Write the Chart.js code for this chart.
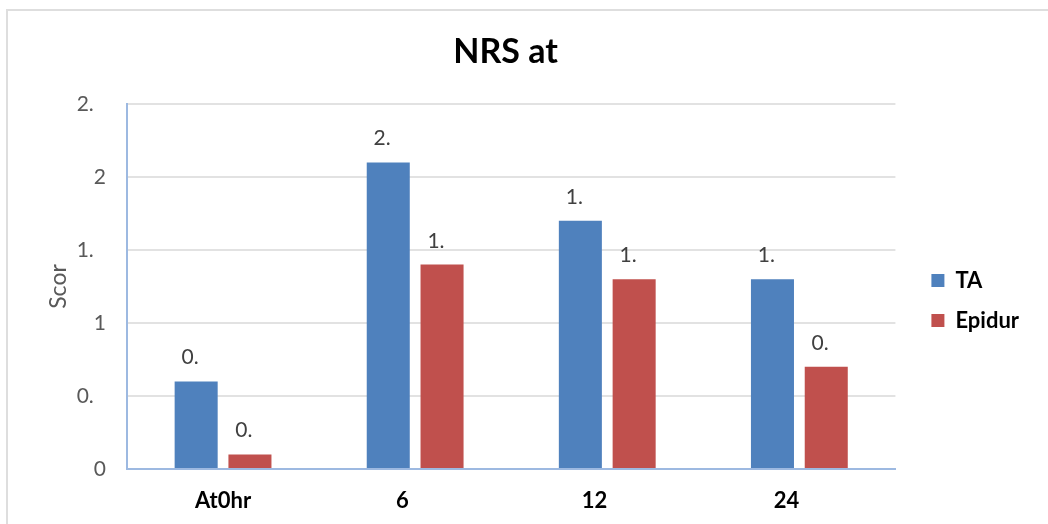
<!DOCTYPE html>
<html>
<head>
<meta charset="utf-8">
<script src="https://cdn.jsdelivr.net/npm/chart.js@4/dist/chart.umd.min.js"></script>
<style>
  html, body { margin: 0; padding: 0; background: #fff; overflow: hidden; }
  #wrap { position: relative; width: 1048px; height: 524px; }
  #frame { position: absolute; left: 6px; top: 9px; width: 1100px; height: 600px;
           border: 2px solid #dedede; box-sizing: border-box; }
  canvas { position: absolute; left: 0; top: 0; }
</style>
</head>
<body>
<div id="wrap">
  <div id="frame"></div>
  <canvas id="chart" width="1048" height="524"></canvas>
</div>
<script>
// Pain scores (NRS) by time point
const categories = ['At0hr', '6', '12', '24'];
const seriesNames = ['TA', 'Epidur'];
const taScores = [0.6, 2.1, 1.7, 1.3];
const epiduralScores = [0.1, 1.4, 1.3, 0.7];
const yTickLabels = ['0', '0.', '1', '1.', '2', '2.'];

const FIG = '\u2007'; // figure space, keeps clipped labels in their column

// Short value labels above each bar
const valueLabels = {
  id: 'valueLabels',
  afterDatasetsDraw(chart) {
    const ctx = chart.ctx;
    ctx.save();
    ctx.font = '21px Lato';
    ctx.fillStyle = '#404040';
    ctx.textAlign = 'center';
    ctx.textBaseline = 'alphabetic';
    chart.data.datasets.forEach((ds, di) => {
      chart.getDatasetMeta(di).data.forEach((bar, i) => {
        const text = String(ds.data[i]).slice(0, 2) + FIG;
        ctx.fillText(text, bar.x, bar.y - 17);
      });
    });
    ctx.restore();
  }
};

// Moves the legend block a little into the right margin
const legendNudge = {
  id: 'legendNudge',
  afterLayout(chart) {
    const lg = chart.legend;
    if (!lg) return;
    lg.left += 18; lg.right += 18;
    lg.top += 14; lg.bottom += 14;
  }
};

new Chart(document.getElementById('chart'), {
  type: 'bar',
  data: {
    labels: categories,
    datasets: [
      { label: seriesNames[0], data: taScores, backgroundColor: '#4F81BD',
        categoryPercentage: 0.56, barPercentage: 0.8 },
      { label: seriesNames[1], data: epiduralScores, backgroundColor: '#C0504D',
        categoryPercentage: 0.56, barPercentage: 0.8 }
    ]
  },
  options: {
    responsive: false,
    animation: false,
    devicePixelRatio: 1,
    layout: { padding: { left: 0, right: 37, top: 0, bottom: 0 } },
    plugins: {
      title: {
        display: true,
        text: 'NRS at',
        color: '#000',
        font: { family: 'Lato', size: 34, weight: 'bold' },
        padding: { top: 31.6, bottom: 31.6 }
      },
      legend: {
        position: 'right',
        fullSize: false,
        labels: {
          boxWidth: 13, boxHeight: 13, padding: 18,
          color: '#000',
          font: { family: 'Lato', size: 22, weight: 'bold' }
        }
      },
      tooltip: { enabled: false }
    },
    scales: {
      x: {
        grid: { display: false, drawTicks: false },
        border: { color: '#9DB9E1', width: 2, z: 1 },
        ticks: {
          color: '#000',
          padding: 19,
          font: { family: 'Lato', size: 22, weight: 'bold' },
          callback: (v, i) => i === 0 ? categories[i] : categories[i] + FIG + FIG
        },
        afterFit(s) { s.height = 55; }
      },
      y: {
        min: 0,
        max: 2.5,
        grid: { color: '#E2E2E2', lineWidth: 2, drawTicks: false },
        border: { color: '#9DB9E1', width: 2, z: 1 },
        ticks: {
          stepSize: 0.5,
          padding: 21,
          color: '#595959',
          font: { family: 'Lato', size: 21 },
          callback: (v, i) => {
            const t = yTickLabels[i];
            return t.endsWith('.') ? t + FIG : t;
          }
        },
        title: {
          display: true,
          text: 'Scor',
          color: '#595959',
          font: { family: 'Lato', size: 23 },
          padding: { top: 45, bottom: 0 }
        },
        afterFit(s) { s.width = 127; }
      }
    }
  },
  plugins: [valueLabels, legendNudge]
});
</script>
</body>
</html>
